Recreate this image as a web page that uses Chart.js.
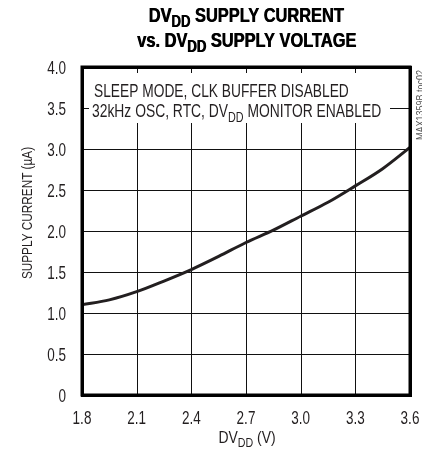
<!DOCTYPE html>
<html>
<head>
<meta charset="utf-8">
<script src="https://cdn.jsdelivr.net/npm/chart.js@4.4.1/dist/chart.umd.min.js"></script>
<style>
  html, body { margin: 0; padding: 0; background: #fff; }
  #wrap { position: relative; width: 422px; height: 456px; }
  #frame { position: absolute; box-sizing: border-box; border: 3px solid #000; pointer-events: none; }
</style>
</head>
<body>
<div id="wrap">
  <canvas id="chart" width="422" height="456"></canvas>
  <div id="frame"></div>
</div>
<script>
// values
const voltage = [1.8, 1.95, 2.1, 2.25, 2.4, 2.55, 2.7, 2.85, 3.0, 3.15, 3.3, 3.45, 3.6];
const current = [1.10, 1.16, 1.26, 1.39, 1.53, 1.69, 1.86, 2.01, 2.18, 2.35, 2.55, 2.76, 3.02];

const xTicks = [1.8, 2.1, 2.4, 2.7, 3.0, 3.3, 3.6];
const yTicks = [0, 0.5, 1.0, 1.5, 2.0, 2.5, 3.0, 3.5, 4.0];

// text pieces: [text, isSubscript]
const titleLine1 = [["DV", 0], ["DD", 1], [" SUPPLY CURRENT", 0]];
const titleLine2 = [["vs. DV", 0], ["DD", 1], [" SUPPLY VOLTAGE", 0]];
const noteLine1 = [["SLEEP MODE, CLK BUFFER DISABLED", 0]];
const noteLine2 = [["32kHz OSC, RTC, DV", 0], ["DD", 1], [" MONITOR ENABLED", 0]];
const xTitle = [["DV", 0], ["DD", 1], [" (V)", 0]];
const yTitle = [["SUPPLY CURRENT (\u00b5A)", 0]];
const tocLabel = [["MAX1359B toc02", 0]];

// no condensed face installed, so Liberation Sans is squeezed sideways
const FONT = '"Liberation Sans", Arial, sans-serif';
const INK = "#231f20";

function fmt(v) {
  return v === 0 ? "0" : v.toFixed(1);
}

// one line of text with subscripts; sx squeezes it horizontally
function drawText(ctx, parts, x, y, o) {
  const size = o.size, weight = o.weight || "normal", sx = o.sx || 1;
  const subSize = Math.round(size * (o.subScale || 0.78));
  const font = s => weight + " " + s + "px " + FONT;
  let total = 0;
  parts.forEach(([t, sub]) => {
    ctx.font = font(sub ? subSize : size);
    total += ctx.measureText(t).width;
  });
  let start = 0;
  if (o.align === "center") start = -total / 2;
  if (o.align === "right") start = -total;
  ctx.save();
  ctx.translate(x, y);
  if (o.rotate) ctx.rotate(o.rotate);
  ctx.scale(sx, 1);
  ctx.textAlign = "left";
  ctx.textBaseline = "alphabetic";
  let cx = start;
  parts.forEach(([t, sub]) => {
    ctx.font = font(sub ? subSize : size);
    ctx.fillText(t, cx, sub ? size * 0.25 : 0);
    cx += ctx.measureText(t).width;
  });
  ctx.restore();
}

const decor = {
  id: "decor",
  beforeDatasetsDraw(chart) {
    const { ctx, chartArea: a, scales } = chart;
    ctx.save();
    // grid, drawn as 1px rectangles
    ctx.fillStyle = "#111";
    xTicks.forEach(v => {
      const px = Math.round(scales.x.getPixelForValue(v));
      ctx.fillRect(px, a.top, 1, a.bottom - a.top);
    });
    yTicks.forEach(v => {
      const py = Math.round(scales.y.getPixelForValue(v));
      ctx.fillRect(a.left, py, a.right - a.left, 1);
    });
    // white box behind the note, hides the grid
    ctx.fillStyle = "#fff";
    ctx.fillRect(a.left + 7, a.top + 6, 301, 50);
    ctx.fillStyle = INK;
    drawText(ctx, noteLine1, a.left + 12, a.top + 30, { size: 18, sx: 0.765 });
    drawText(ctx, noteLine2, a.left + 10, a.top + 50, { size: 18, sx: 0.77, subScale: 0.8 });
    ctx.restore();
  },
  afterDatasetsDraw(chart) {
    const { ctx, chartArea: a } = chart;
    ctx.save();
    ctx.strokeStyle = "#000";
    ctx.lineWidth = 3;
    ctx.strokeRect(a.left, a.top, a.right - a.left, a.bottom - a.top);
    ctx.restore();
  },
  afterDraw(chart) {
    const { ctx, chartArea: a, scales } = chart;
    const mid = (a.left + a.right) / 2;
    ctx.save();

    // tick labels
    ctx.fillStyle = INK;
    const t = { size: 18, sx: 0.75 };
    xTicks.forEach(v => {
      drawText(ctx, [[fmt(v), 0]], scales.x.getPixelForValue(v), a.bottom + 29, { ...t, align: "center" });
    });
    yTicks.forEach(v => {
      drawText(ctx, [[fmt(v), 0]], a.left - 16, scales.y.getPixelForValue(v) + 7, { ...t, align: "right" });
    });

    // titles, drawn twice with a small shift to look heavier
    ctx.fillStyle = "#000";
    const h = { size: 20, weight: "bold", sx: 0.82, subScale: 0.82, align: "center" };
    drawText(ctx, titleLine1, mid, 22, h);
    drawText(ctx, titleLine2, mid + 0.5, 47, h);
    drawText(ctx, titleLine1, mid + 0.6, 22, h);
    drawText(ctx, titleLine2, mid + 1.1, 47, h);

    ctx.fillStyle = INK;
    drawText(ctx, xTitle, mid + 1, 443, { size: 17, sx: 0.82, align: "center" });
    drawText(ctx, yTitle, 32, 213, { size: 15, sx: 0.785, align: "center", rotate: -Math.PI / 2 });

    ctx.fillStyle = "#555";
    drawText(ctx, tocLabel, 424, 140, { size: 10, sx: 0.9, rotate: -Math.PI / 2 });
    ctx.restore();
  }
};

const chart = new Chart(document.getElementById("chart"), {
  type: "line",
  data: {
    datasets: [{
      data: voltage.map((v, i) => ({ x: v, y: current[i] })),
      borderColor: INK,
      borderWidth: 3,
      pointRadius: 0,
      cubicInterpolationMode: "monotone",
      fill: false
    }]
  },
  options: {
    responsive: false,
    animation: false,
    devicePixelRatio: 1,
    layout: { padding: { top: 67, right: 12, left: 0, bottom: 0 } },
    plugins: { legend: { display: false }, tooltip: { enabled: false } },
    scales: {
      x: {
        type: "linear",
        min: 1.8,
        max: 3.6,
        afterBuildTicks: s => { s.ticks = xTicks.map(v => ({ value: v })); },
        afterFit: s => { s.height = 61; },
        grid: { display: false },
        border: { display: false },
        ticks: { display: false }
      },
      y: {
        min: 0,
        max: 4,
        afterBuildTicks: s => { s.ticks = yTicks.map(v => ({ value: v })); },
        afterFit: s => { s.width = 82; },
        grid: { display: false },
        border: { display: false },
        ticks: { display: false }
      }
    }
  },
  plugins: [decor]
});

// heavy plot border, placed on the chart area the library worked out
const area = chart.chartArea;
const frame = document.getElementById("frame");
frame.style.left = (Math.round(area.left) - 1) + "px";
frame.style.top = (Math.round(area.top) - 1) + "px";
frame.style.width = (Math.round(area.right) - Math.round(area.left) + 3) + "px";
frame.style.height = (Math.round(area.bottom) - Math.round(area.top) + 3) + "px";
</script>
</body>
</html>
